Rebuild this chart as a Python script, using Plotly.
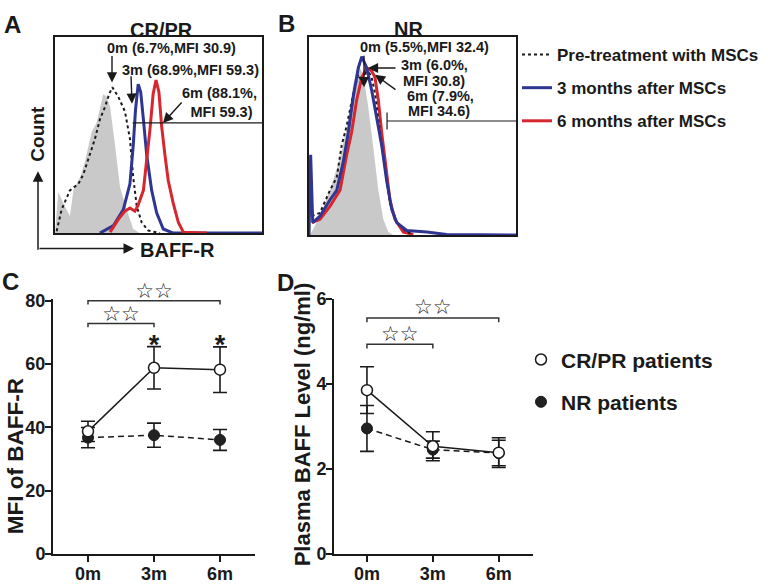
import plotly.graph_objects as go

# ── canvas ───────────────────────────────────────────────────────────────────
W, H = 768, 586
INK = "#1a1a1a"
GRAY = "#c9c9c9"
BLUE = "#2f3592"
RED = "#d7262e"
FONT = "Liberation Sans, Arial, sans-serif"

# ── A / B: flow histograms (channel 0-100, count as % of box height) ────────
A_ISO_X = [0, 1.6, 4.8, 7.2, 8.9, 12.1, 14.5, 17.7, 20.1, 21.7, 23.3, 25.0, 26.6, 29.0, 31.4, 34.6, 37.8, 41.0]
A_ISO_Y = [0, 21.0, 13.6, 8.7, 21.8, 28.4, 36.6, 51.4, 56.3, 64.5, 70.8, 69.5, 64.5, 44.8, 23.5, 12.0, 2.1, 0]
A_PRE_X = [0.8, 3.2, 7.2, 11.3, 13.7, 16.9, 19.3, 21.7, 24.2, 26.2, 27.7, 30.6, 33.8, 36.2, 37.8, 39.5, 41.9, 45.1, 50.7]
A_PRE_Y = [1.0, 12.0, 21.8, 25.1, 30.0, 39.9, 48.1, 58.0, 64.5, 71.0, 74.4, 69.5, 62.0, 48.1, 28.4, 13.6, 5.4, 1.3, 0]
A_3M_X = [21.7, 28.2, 33.0, 36.2, 37.8, 38.9, 40.2, 41.4, 42.7, 44.3, 46.7, 49.1, 52.3, 57.1, 100]
A_3M_Y = [0, 3.8, 12.0, 25.1, 44.8, 63.0, 76.0, 72.0, 58.0, 39.9, 21.8, 10.3, 2.1, 0, 0]
A_6M_X = [26.6, 30.6, 33.8, 36.2, 38.6, 40.2, 42.7, 44.3, 45.9, 47.4, 48.8, 50.2, 51.5, 53.1, 54.7, 57.1, 59.6, 62.0, 73.3]
A_6M_Y = [0.5, 7.0, 11.2, 12.8, 11.2, 14.4, 21.8, 36.6, 53.0, 71.0, 78.0, 72.0, 54.7, 39.9, 26.8, 15.3, 5.4, 0.5, 0]
A_GATE_X = [37.5, 100]
A_GATE_Y = [56.2, 56.2]

B_ISO_X = [0, 1.3, 5.3, 10.1, 15.0, 18.2, 21.4, 23.8, 26.2, 28.6, 31.1, 33.5, 35.9, 38.3, 40.7]
B_ISO_Y = [0, 1.5, 9.6, 22.6, 38.9, 53.5, 76.2, 86.0, 81.1, 64.9, 43.8, 22.6, 8.0, 1.5, 0]
B_PRE_X = [1.3, 5.3, 10.1, 13.4, 15.8, 18.2, 21.4, 23.8, 26.2, 27.9, 30.3, 31.9, 34.3, 36.7, 39.1, 42.4, 47.2, 50.4]
B_PRE_Y = [9.6, 11.2, 22.6, 29.1, 45.4, 55.1, 71.4, 81.1, 76.2, 84.4, 79.5, 71.4, 51.9, 34.0, 16.1, 6.3, 1.5, 0.3]
B_3M_X = [0, 0.8, 1.8, 5.3, 10.1, 13.4, 16.6, 19.0, 21.4, 23.8, 25.5, 27.9, 30.3, 32.7, 35.1, 37.5, 40.0, 42.4, 47.2, 56.9, 66.5, 100]
B_3M_Y = [0, 40.5, 6.3, 9.6, 17.7, 22.6, 37.2, 51.9, 69.8, 84.4, 90.1, 84.4, 73.0, 60.0, 45.4, 27.5, 12.8, 6.3, 2.3, 1.5, 0.3, 0]
B_6M_X = [1.3, 5.3, 10.1, 15.0, 18.2, 20.6, 23.0, 25.5, 27.9, 30.3, 31.9, 33.5, 35.1, 36.7, 39.1, 41.5, 45.6, 50.4]
B_6M_Y = [6.3, 8.0, 14.5, 22.6, 40.5, 51.9, 68.1, 79.5, 84.4, 82.8, 79.5, 68.1, 51.9, 37.2, 17.7, 8.0, 1.5, 0.3]
B_GATE_X = [37.7, 100]
B_GATE_Y = [57.6, 57.6]

# ── C / D: means ± SEM ───────────────────────────────────────────────────────
MONTHS = ["0m", "3m", "6m"]
MONTH_POS = [0, 1, 2]
C_CR_MEAN = [38.7, 58.8, 58.2]
C_CR_SEM = [3.2, 6.7, 7.2]
C_NR_MEAN = [36.7, 37.5, 36.0]
C_NR_SEM = [3.2, 3.8, 3.3]
D_CR_MEAN = [3.85, 2.53, 2.38]
D_CR_SEM = [0.55, 0.34, 0.35]
D_NR_MEAN = [2.95, 2.45, 2.37]
D_NR_SEM = [0.54, 0.20, 0.30]

# significance brackets: (from, to, height, star height)
C_BRACKETS = [(0, 2, 80.0, 82.6), (0, 1, 72.8, 75.3)]
D_BRACKETS = [(0, 2, 5.55, 5.76), (0, 1, 4.93, 5.13)]
C_ASTERISK_X = [1, 2]
C_ASTERISK_Y = [65.4, 65.4]


# picture pixel -> paper fraction
def px(x):
    return x / W


def py(y):
    return 1 - y / H


def dx(a, b):
    return [px(a), px(b)]


def dy(top, bottom):
    return [py(bottom), py(top)]


fig = go.Figure()


def line_trace(x, y, xa, ya, color, width, dash="solid", **kw):
    fig.add_trace(go.Scatter(x=x, y=y, mode="lines", xaxis=xa, yaxis=ya,
                             line=dict(color=color, width=width, dash=dash),
                             hoverinfo="skip", **kw))


# ── A ──
fig.add_trace(go.Scatter(x=A_ISO_X, y=A_ISO_Y, mode="lines", fill="tozeroy", fillcolor=GRAY,
                         line=dict(width=0, color=GRAY), xaxis="x", yaxis="y", showlegend=False))
line_trace(A_PRE_X, A_PRE_Y, "x", "y", INK, 2, "dot", name="Pre-treatment with MSCs",
           legend="legend", legendgroup="pre")
line_trace(A_3M_X, A_3M_Y, "x", "y", BLUE, 3, name="3 months after MSCs",
           legend="legend", legendgroup="m3")
line_trace(A_6M_X, A_6M_Y, "x", "y", RED, 3, name="6 months after MSCs",
           legend="legend", legendgroup="m6")
line_trace(A_GATE_X, A_GATE_Y, "x", "y", INK, 1.2, showlegend=False)

# ── B ──
fig.add_trace(go.Scatter(x=B_ISO_X, y=B_ISO_Y, mode="lines", fill="tozeroy", fillcolor=GRAY,
                         line=dict(width=0, color=GRAY), xaxis="x2", yaxis="y2", showlegend=False))
line_trace(B_6M_X, B_6M_Y, "x2", "y2", RED, 3, showlegend=False)
line_trace(B_PRE_X, B_PRE_Y, "x2", "y2", INK, 2, "dot", showlegend=False)
line_trace(B_3M_X, B_3M_Y, "x2", "y2", BLUE, 3, showlegend=False)
line_trace(B_GATE_X, B_GATE_Y, "x2", "y2", INK, 1.2, showlegend=False)
fig.add_trace(go.Scatter(x=B_GATE_X[:1], y=B_GATE_Y[:1], mode="markers", xaxis="x2", yaxis="y2",
                         marker=dict(symbol="line-ns", size=12, line=dict(width=1.2, color=INK)),
                         showlegend=False, hoverinfo="skip"))


# ── C / D ──
def group_traces(mean_cr, sem_cr, mean_nr, sem_nr, xa, ya, legend_on):
    line_trace(MONTH_POS, mean_nr, xa, ya, INK, 1.5, "6px,4px", showlegend=False)
    line_trace(MONTH_POS, mean_cr, xa, ya, INK, 1.5, showlegend=False)
    err = dict(type="data", width=7, thickness=1.6, color=INK)
    fig.add_trace(go.Scatter(x=MONTH_POS, y=mean_nr, mode="markers", xaxis=xa, yaxis=ya,
                             error_y=dict(array=sem_nr, **err),
                             marker=dict(size=11, color="#222222", line=dict(width=1, color=INK)),
                             name="NR patients", legend="legend2", legendrank=2, legendgroup="nr",
                             showlegend=legend_on, hoverinfo="skip"))
    fig.add_trace(go.Scatter(x=MONTH_POS, y=mean_cr, mode="markers", xaxis=xa, yaxis=ya,
                             error_y=dict(array=sem_cr, **err),
                             marker=dict(size=11, color="white", line=dict(width=1.5, color=INK)),
                             name="CR/PR patients", legend="legend2", legendrank=1, legendgroup="cr",
                             showlegend=legend_on, hoverinfo="skip"))


group_traces(C_CR_MEAN, C_CR_SEM, C_NR_MEAN, C_NR_SEM, "x3", "y3", True)
group_traces(D_CR_MEAN, D_CR_SEM, D_NR_MEAN, D_NR_SEM, "x4", "y4", False)


def brackets(spec, depth, xa, ya):
    for x0, x1, h, sh in spec:
        line_trace([x0, x0, x1, x1], [h - depth, h, h, h - depth], xa, ya, "#333333", 1.5,
                   showlegend=False)
        fig.add_trace(go.Scatter(x=[(x0 + x1) / 2], y=[sh], mode="text", text=["☆☆"],
                                 textfont=dict(family="DejaVu Sans", size=21, color="#222222"),
                                 xaxis=xa, yaxis=ya, showlegend=False, hoverinfo="skip"))


brackets(C_BRACKETS, 1.2, "x5", "y5")
brackets(D_BRACKETS, 0.1, "x4", "y4")
fig.add_trace(go.Scatter(x=C_ASTERISK_X, y=C_ASTERISK_Y, mode="text", text=["*"] * len(C_ASTERISK_X),
                         textfont=dict(family=FONT, size=27, color=INK, weight="bold"),
                         xaxis="x5", yaxis="y5", showlegend=False, hoverinfo="skip"))

# ── axes ──
box = dict(range=[0, 100], showline=True, mirror=True, linecolor=INK, linewidth=1.6,
           showticklabels=False, ticks="", showgrid=False, zeroline=False)
tickfont = dict(family=FONT, size=18, color=INK, weight="bold")
ax_common = dict(showline=True, linecolor=INK, linewidth=2, ticks="outside", ticklen=6,
                 tickwidth=1.6, tickcolor=INK, showgrid=False, zeroline=False, tickfont=tickfont)

C_Y_TOP = 80.6
C_PX_PER = (563 - 301) / 80
C_TOP = 563 - C_Y_TOP * C_PX_PER
OVER_TOP = 266

fig.update_layout(
    width=W, height=H, margin=dict(l=0, r=0, t=0, b=0),
    paper_bgcolor="white", plot_bgcolor="rgba(0,0,0,0)",
    font=dict(family=FONT, color=INK, weight="bold"),
    xaxis=dict(domain=dx(55, 262), anchor="y", **box),
    yaxis=dict(domain=dy(28, 231), anchor="x", **box),
    xaxis2=dict(domain=dx(309, 516), anchor="y2", **box),
    yaxis2=dict(domain=dy(28, 233), anchor="x2", **box),
    xaxis3=dict(domain=dx(53, 255), anchor="y3", range=[-0.53, 2.53], ticklabelstandoff=-3,
                tickvals=MONTH_POS, ticktext=MONTHS, **ax_common),
    yaxis3=dict(domain=dy(C_TOP, 563), anchor="x3", range=[0, C_Y_TOP],
                tickvals=[0, 20, 40, 60, 80], ticklabelstandoff=-4, **ax_common),
    xaxis5=dict(domain=dx(53, 255), anchor="y5", range=[-0.53, 2.53], visible=False),
    yaxis5=dict(domain=dy(OVER_TOP, 563), anchor="x5",
                range=[0, (563 - OVER_TOP) / C_PX_PER], visible=False),
    xaxis4=dict(domain=dx(334, 533), anchor="y4", range=[-0.5, 2.52], ticklabelstandoff=-3,
                tickvals=MONTH_POS, ticktext=MONTHS, **ax_common),
    yaxis4=dict(domain=dy(299, 563), anchor="x4", range=[0, 6],
                tickvals=[0, 2, 4, 6], ticklabelstandoff=-4, **ax_common),
    legend=dict(x=px(517), y=py(28), xanchor="left", yanchor="top", bgcolor="rgba(0,0,0,0)",
                font=dict(family=FONT, size=17, color=INK, weight="bold"),
                tracegroupgap=8, itemwidth=30),
    legend2=dict(x=px(521), y=py(341), xanchor="left", yanchor="top", bgcolor="rgba(0,0,0,0)",
                 font=dict(family=FONT, size=21, color=INK, weight="bold"),
                 tracegroupgap=12),
    showlegend=True,
)


# ── text labels ──
def label(x, y, text, size, angle=0, height=None):
    fig.add_annotation(x=px(x), y=py(y), xref="paper", yref="paper", text=text, showarrow=False,
                       textangle=angle, xanchor="center", yanchor="middle",
                       height=height, borderpad=0 if height else 1,
                       font=dict(family=FONT, size=size, color=INK, weight="bold"))


label(12, 15, "A", 24)
label(286, 14, "B", 24)
label(10, 281, "C", 24)
label(285, 282, "D", 24)
label(161, 21, "CR/PR", 20)
label(408, 20, "NR", 20)
label(38, 128, "Count", 19, -90)
label(177, 248, "BAFF-R", 20)
label(15, 462, "MFI of BAFF-R", 22.5, -90)
label(302, 429, "Plasma BAFF Level (ng/ml)", 22, -90)

label(171, 39, "0m (6.7%,MFI 30.9)", 14.5)
label(190, 62, "3m (68.9%,MFI 59.3)", 14.5)
label(219, 96, "6m (88.1%,<br> MFI 59.3)", 14.5)
label(424, 38, "0m (5.5%,MFI 32.4)", 14.5, height=16)
label(434, 57, "3m (6.0%,", 14.5, height=16)
label(434, 73, "MFI 30.8)", 14.5, height=16)
label(440, 89, "6m (7.9%,", 14.5, height=16)
label(439, 105, "MFI 34.6)", 14.5, height=16)


def arrow(tail, tip, width=1.4, size=1.45):
    fig.add_annotation(x=px(tip[0]), y=py(tip[1]), xref="paper", yref="paper",
                       ax=tail[0] - tip[0], ay=tail[1] - tip[1], axref="pixel", ayref="pixel",
                       text="", showarrow=True, arrowhead=2, arrowsize=size,
                       arrowwidth=width, arrowcolor=INK)


arrow((112, 47), (112, 75))
arrow((131, 68), (132, 97))
arrow((183, 95), (163, 117))
arrow((364, 47), (364, 80))
arrow((397, 60), (368, 60))
arrow((397, 83), (375, 67))
arrow((38, 247), (38, 167), 1.5, 1.4)
arrow((38, 247), (134, 247), 1.5, 1.4)

# the page body has an 8px default margin; drop it so the figure fills the window
fig.write_html("out.html", config={"displayModeBar": False},
               post_script="document.body.style.margin = '0';")
